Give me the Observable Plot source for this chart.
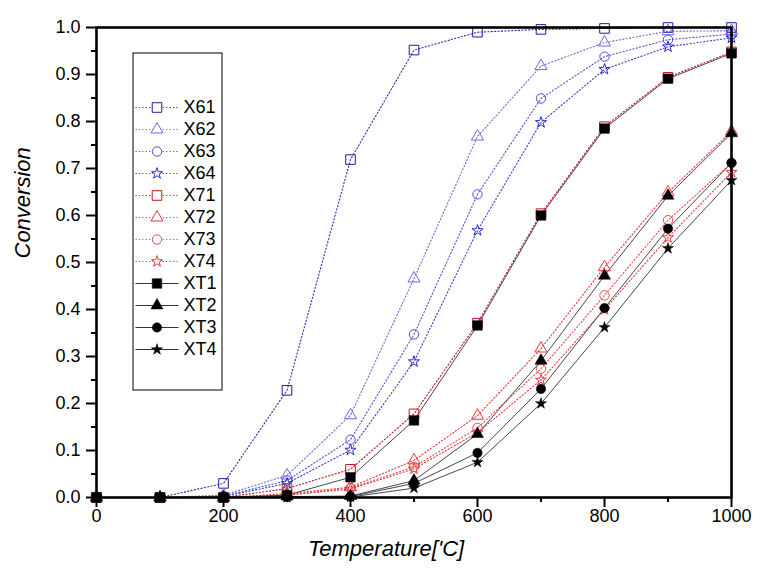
<!DOCTYPE html>
<html><head><meta charset="utf-8">
<script src="https://cdn.jsdelivr.net/npm/d3@7"></script>
<script src="https://cdn.jsdelivr.net/npm/@observablehq/plot@0.6"></script>
<style>
body{margin:0;background:#fff;font-family:"Liberation Sans",Arial,sans-serif;}
#wrap{position:relative;width:771px;height:584px;}
#chart{position:absolute;left:0;top:0;}
#legend{position:absolute;left:132px;top:52px;}
svg{overflow:visible;display:block}
</style></head><body><div id="wrap"><div id="chart"></div><div id="legend"></div></div>
<script>
// x values (Temperature, °C)
const temps = [0, 100, 200, 300, 400, 500, 600, 700, 800, 900, 1000];
// conversion series
const X61 = [0, 0, 0.030, 0.228, 0.719, 0.952, 0.990, 0.996, 0.998, 1.000, 1.000];
const X62 = [0, 0, 0.005, 0.047, 0.175, 0.466, 0.768, 0.918, 0.968, 0.992, 0.993];
const X63 = [0, 0, 0.003, 0.036, 0.123, 0.347, 0.645, 0.849, 0.938, 0.974, 0.986];
const X64 = [0, 0, 0.002, 0.030, 0.101, 0.289, 0.568, 0.798, 0.911, 0.959, 0.978];
const X71 = [0, 0, 0.000, 0.019, 0.060, 0.178, 0.371, 0.604, 0.789, 0.894, 0.948];
const X72 = [0, 0, 0.000, 0.008, 0.022, 0.079, 0.174, 0.317, 0.490, 0.649, 0.779];
const X73 = [0, 0, 0.000, 0.006, 0.020, 0.065, 0.148, 0.274, 0.430, 0.590, 0.712];
const X74 = [0, 0, 0.000, 0.005, 0.018, 0.061, 0.138, 0.250, 0.400, 0.553, 0.692];
const XT1 = [0, 0, 0.000, 0.005, 0.043, 0.164, 0.366, 0.600, 0.785, 0.891, 0.945];
const XT2 = [0, 0, 0.000, 0.002, 0.003, 0.036, 0.135, 0.291, 0.472, 0.642, 0.775];
const XT3 = [0, 0, 0.000, 0.001, 0.002, 0.030, 0.095, 0.231, 0.403, 0.572, 0.712];
const XT4 = [0, 0, 0.000, 0.000, 0.001, 0.020, 0.075, 0.200, 0.362, 0.530, 0.675];

const seriesNames = ["X61","X62","X63","X64","X71","X72","X73","X74","XT1","XT2","XT3","XT4"];
const seriesValues = [X61,X62,X63,X64,X71,X72,X73,X74,XT1,XT2,XT3,XT4];
const seriesColors = ["#1c1ca6","#6b6be0","#4c4cd6","#2a2acc","#c4141e","#e8343a","#f04a4a","#e83a40","#000","#000","#000","#000"];
const lineColors = ["#2a2ab0","#6b6be0","#5050d6","#3a3acc","#c4141e","#e8343a","#f04a4a","#e83a40","#333","#333","#333","#333"];
const seriesSymbols = ["square","triangle","circle","star","square","triangle","circle","star","square","triangle","circle","star"];
const seriesFilled = [false,false,false,false,false,false,false,false,true,true,true,true];

const xMajor = [0, 200, 400, 600, 800, 1000];
const xMinor = [100, 300, 500, 700, 900];
const yMajor = [0, 0.1, 0.2, 0.3, 0.4, 0.5, 0.6, 0.7, 0.8, 0.9, 1.0];
const yMinor = [0.05, 0.15, 0.25, 0.35, 0.45, 0.55, 0.65, 0.75, 0.85, 0.95];
const xTitle = "Temperature['C]";
const yTitle = "Conversion";

const symR = {square: 5.4, triangle: 4.5, circle: 4.7, star: 3.5};

const series = seriesNames.map((name, i) => ({
  name, color: seriesColors[i], lineColor: lineColors[i], symbol: seriesSymbols[i], filled: seriesFilled[i],
  rows: temps.map((t, j) => ({t, v: seriesValues[i][j]}))
}));

const lineMarks = [];
const dotMarks = [];
for (const s of series) {
  lineMarks.push(Plot.line(s.rows, {x: "t", y: "v", stroke: s.lineColor,
    strokeWidth: s.filled ? 0.9 : 1.1, strokeDasharray: s.filled ? null : "1.2,2.2"}));
  dotMarks.push(Plot.dot(s.rows, {x: "t", y: "v", symbol: s.symbol, r: symR[s.symbol],
    stroke: s.color, strokeWidth: s.filled ? 0.5 : 1, fill: s.filled ? "#000" : "none"}));
}

const chart = Plot.plot({
  width: 771, height: 584,
  marginLeft: 96, marginRight: 40, marginTop: 27, marginBottom: 87,
  x: {domain: [0, 1000]},
  y: {domain: [0, 1]},
  style: {fontFamily: "'Liberation Sans', Arial, sans-serif", fontSize: "18px", color: "black", background: "white"},
  marks: [
    Plot.axisX({ticks: xMajor, tickSize: 10, tickPadding: 2, tickFormat: d3.format("d"), strokeWidth: 2, label: null, fontSize: 18}),
    Plot.axisX({ticks: xMinor, tickSize: 5, tickFormat: () => "", strokeWidth: 2, label: null}),
    Plot.axisY({ticks: yMajor, tickSize: 10, tickPadding: 6, tickFormat: d3.format(".1f"), strokeWidth: 2, label: null, fontSize: 18}),
    Plot.axisY({ticks: yMinor, tickSize: 5, tickFormat: () => "", strokeWidth: 2, label: null}),
    ...lineMarks,
    ...dotMarks,
    Plot.frame({stroke: "black", strokeWidth: 2.6}),
    Plot.text([xTitle], {frameAnchor: "bottom", dy: 58, dx: -28, fontSize: 22, fontStyle: "italic"}),
    Plot.text([yTitle], {frameAnchor: "left", dx: -74, dy: -4, rotate: -90, fontSize: 22, fontStyle: "italic"})
  ]
});
document.getElementById("chart").appendChild(chart);

// legend
const legendMarks = [Plot.frame({stroke: "black", strokeWidth: 1, inset: 0.5})];
for (const s of series) {
  const row = [{name: s.name}];
  legendMarks.push(Plot.link(row, {x1: () => 0, x2: () => 1, y1: "name", y2: "name", stroke: s.lineColor,
    strokeWidth: s.filled ? 1 : 1.1, strokeDasharray: s.filled ? null : "1.2,2.2"}));
  legendMarks.push(Plot.dot(row, {x: () => 0.5, y: "name", symbol: s.symbol, r: symR[s.symbol],
    stroke: s.filled ? "#000" : s.color, strokeWidth: s.filled ? 0.5 : 1, fill: s.filled ? "#000" : "white"}));
  legendMarks.push(Plot.text(row, {x: () => 1, y: "name", text: "name", dx: 5, textAnchor: "start", fontSize: 18, fill: "black"}));
}
const legend = Plot.plot({
  width: 90, height: 338, margin: 0,
  x: {domain: [0, 1], range: [3, 46], axis: null},
  y: {type: "point", domain: seriesNames, range: [51, 301], padding: 0, axis: null},
  style: {fontFamily: "'Liberation Sans', Arial, sans-serif", fontSize: "18px", background: "white"},
  marks: legendMarks
});
document.getElementById("legend").appendChild(legend);
</script></body></html>
